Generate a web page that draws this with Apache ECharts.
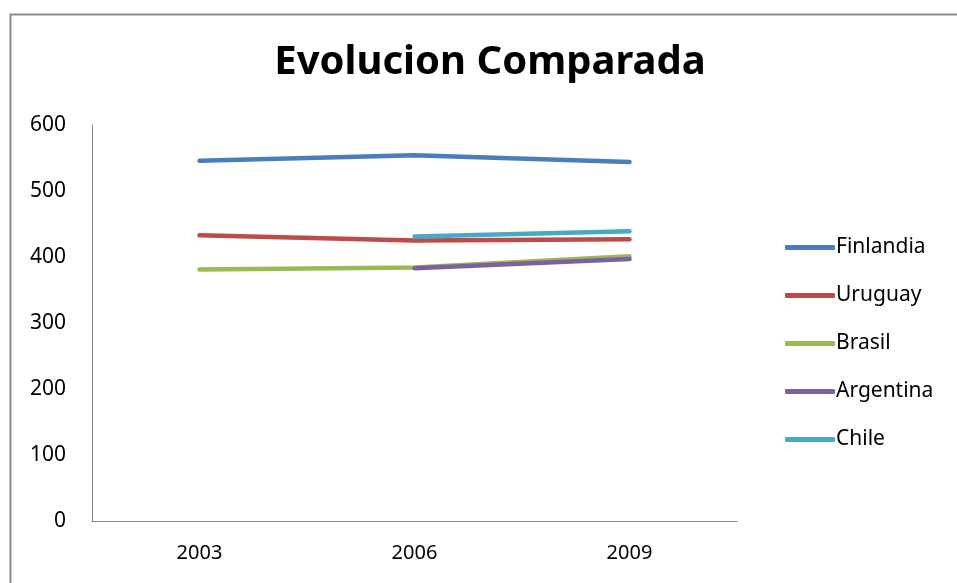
<!DOCTYPE html>
<html>
<head>
<meta charset="utf-8">
<script src="https://cdn.jsdelivr.net/npm/echarts@6/dist/echarts.min.js"></script>
<style>html,body{margin:0;padding:0;background:#fff;}#c{width:957px;height:583px;}</style>
</head>
<body>
<div id="c"></div>
<script>
const categories = ['2003', '2006', '2009'];
const finlandia = [546, 554, 544];
const uruguay = [433, 425, 427];
const brasil = [381, 384, 401];
const argentina = [null, 383, 397];
const chile = [null, 431, 439];
const seriesNames = ['Finlandia', 'Uruguay', 'Brasil', 'Argentina', 'Chile'];
const seriesData = [finlandia, uruguay, brasil, argentina, chile];
const colors = ['#4A7EBB', '#BE4B48', '#98B954', '#7D60A0', '#46AAC5'];

const chart = echarts.init(document.getElementById('c'));
const font = 'Noto Sans';
chart.setOption({
  animation: false,
  color: colors,
  graphic: [{
    type: 'rect', left: 8, top: 12, z: -1,
    shape: { width: 1000, height: 1000 },
    style: { fill: 'none', stroke: '#8a8a8a', lineWidth: 2 }
  }],
  title: {
    text: 'Evolucion Comparada',
    left: 485, top: 38, textAlign: 'center',
    textStyle: { fontFamily: font, fontWeight: 'bold', fontSize: 40, color: '#000' }
  },
  legend: {
    orient: 'vertical', left: 780, top: 232,
    icon: 'roundRect', itemWidth: 50, itemHeight: 5, itemGap: 27,
    textStyle: { fontFamily: font, fontSize: 21, color: '#000', lineHeight: 21, padding: [0, 0, 0, -4] },
    data: seriesNames
  },
  grid: { left: 92, top: 125, right: 220, bottom: 62, containLabel: false },
  xAxis: {
    type: 'category', data: categories, boundaryGap: true,
    axisLine: { lineStyle: { color: '#868686', width: 1 } },
    axisTick: { show: false },
    axisLabel: { fontFamily: font, fontSize: 20, color: '#000', margin: 22 }
  },
  yAxis: {
    type: 'value', min: 0, max: 600, interval: 100,
    axisLine: { show: true, lineStyle: { color: '#868686', width: 1 } },
    axisTick: { show: false },
    splitLine: { show: false },
    axisLabel: { fontFamily: font, fontSize: 21, color: '#000', margin: 26 }
  },
  series: seriesNames.map((n, i) => ({
    name: n, type: 'line', data: seriesData[i], symbol: 'none', connectNulls: false,
    lineStyle: { width: 4.5, cap: 'round', color: colors[i] },
    itemStyle: { color: colors[i] }
  }))
});
</script>
</body>
</html>
